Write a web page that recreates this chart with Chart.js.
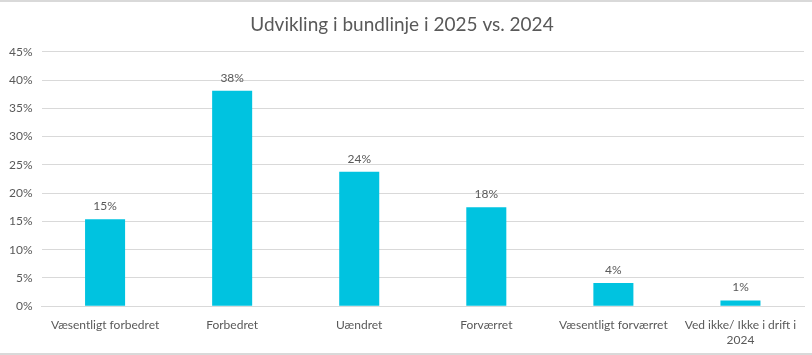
<!DOCTYPE html>
<html lang="da">
<head>
  <meta charset="UTF-8" />
  <title>Udvikling i bundlinje</title>
  <script src="https://cdn.jsdelivr.net/npm/chart.js"></script>
  <style>
    html, body {
      margin: 0;
      padding: 0;
      background: #fff;
    }
    #wrap {
      width: 812px;
      height: 355px;
      box-sizing: border-box;
      border-top: 2px solid #d9d9d9;
      border-bottom: 2px solid #d9d9d9;
    }
  </style>
</head>
<body>
  <div id="wrap">
    <canvas id="chart" width="812" height="351"></canvas>
  </div>

  <script>
    const kategorier = [
      'Væsentligt forbedret',
      'Forbedret',
      'Uændret',
      'Forværret',
      'Væsentligt forværret',
      ['Ved ikke/ Ikke i drift i', '2024']
    ];
    const andele = [15.4, 38.1, 23.8, 17.5, 4.1, 1.0];
    const yTicks = [0, 5, 10, 15, 20, 25, 30, 35, 40, 45];

    const fontFamily = 'Lato, "Open Sans", sans-serif';
    const tekstFarve = '#595959';

    // tegner procent-tallet over hver søjle
    const vaerdiLabels = {
      id: 'vaerdiLabels',
      afterDatasetsDraw(chart) {
        const ctx = chart.ctx;
        const meta = chart.getDatasetMeta(0);
        ctx.save();
        ctx.font = '12px ' + fontFamily;
        ctx.fillStyle = tekstFarve;
        ctx.textAlign = 'center';
        ctx.textBaseline = 'bottom';
        meta.data.forEach((bar, i) => {
          ctx.fillText(Math.round(andele[i]) + '%', bar.x, bar.y - 7);
        });
        ctx.restore();
      }
    };

    new Chart(document.getElementById('chart'), {
      type: 'bar',
      data: {
        labels: kategorier,
        datasets: [{
          data: andele,
          backgroundColor: '#00c3e0',
          barPercentage: 0.315,
          categoryPercentage: 1
        }]
      },
      options: {
        responsive: false,
        animation: false,
        layout: { padding: { left: 0, right: 8, top: 0, bottom: 2 } },
        plugins: {
          legend: { display: false },
          tooltip: { enabled: false },
          title: {
            display: true,
            text: 'Udvikling i bundlinje i 2025 vs. 2024',
            color: tekstFarve,
            font: { family: fontFamily, size: 19, weight: 'normal' },
            padding: { top: 11, bottom: 16 }
          }
        },
        scales: {
          x: {
            grid: { display: false },
            border: { color: '#d9d9d9' },
            ticks: {
              color: tekstFarve,
              font: { family: fontFamily, size: 12 },
              maxRotation: 0,
              autoSkip: false,
              padding: 4
            }
          },
          y: {
            min: 0,
            max: 45,
            afterBuildTicks: axis => {
              axis.ticks = yTicks.map(v => ({ value: v }));
            },
            grid: { color: '#d9d9d9', drawTicks: false },
            border: { display: false },
            ticks: {
              color: tekstFarve,
              font: { family: fontFamily, size: 12 },
              padding: 9,
              callback: v => v + '%'
            }
          }
        }
      },
      plugins: [vaerdiLabels]
    });
  </script>
</body>
</html>
